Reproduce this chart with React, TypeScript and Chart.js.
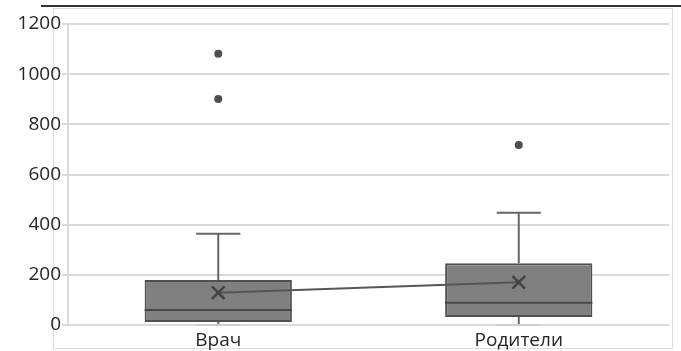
import React, { useEffect, useRef } from "react";
import { Chart, registerables } from "chart.js";

Chart.register(...registerables);

const categories = ["Врач", "Родители"];
const q1Values = [12, 32];
const q3Values = [179, 246];
const medianValues = [60, 89];
const meanValues = [129, 170];
const whiskerLowValues = [0, 0];
const whiskerHighValues = [364, 448];
const outlierValues = [[1081, 901], [718]];
const yMin = 0;
const yMax = 1200;
const yStep = 200;

const FONT = "'Open Sans', 'Noto Sans', sans-serif";

const framePlugin = {
  id: "frame",
  beforeDraw(chart: any) {
    const ctx = chart.ctx;
    ctx.save();
    ctx.fillStyle = "#ffffff";
    ctx.fillRect(0, 0, chart.width, chart.height);
    ctx.strokeStyle = "#dcdcdc";
    ctx.lineWidth = 1;
    ctx.strokeRect(53.5, 8.5, 619, 340);
    ctx.strokeStyle = "#333333";
    ctx.lineWidth = 2;
    ctx.beginPath();
    ctx.moveTo(41, 6);
    ctx.lineTo(681, 6);
    ctx.stroke();
    ctx.restore();
  },
};

const boxPlugin = {
  id: "boxExtras",
  afterDatasetDraw(chart: any, args: any) {
    if (args.index !== 0) return;
    const ctx = chart.ctx;
    const y = chart.scales.y;
    const meta = chart.getDatasetMeta(0);
    ctx.save();
    meta.data.forEach((el: any, i: number) => {
      const { x, width } = el.getProps(["x", "width"], true);
      const capHalf = width * 0.15;
      const yHigh = y.getPixelForValue(whiskerHighValues[i]);
      const yQ3 = y.getPixelForValue(q3Values[i]);
      const yLow = y.getPixelForValue(whiskerLowValues[i]);
      const yQ1 = y.getPixelForValue(q1Values[i]);
      ctx.strokeStyle = "#666666";
      ctx.lineWidth = 2;
      ctx.beginPath();
      ctx.moveTo(x, yQ3);
      ctx.lineTo(x, yHigh);
      ctx.moveTo(x - capHalf, yHigh);
      ctx.lineTo(x + capHalf, yHigh);
      ctx.stroke();
      ctx.beginPath();
      ctx.moveTo(x, yQ1);
      ctx.lineTo(x, yLow);
      ctx.stroke();
      ctx.strokeStyle = "#cfcfcf";
      ctx.lineWidth = 2;
      ctx.beginPath();
      ctx.moveTo(x - capHalf, yLow);
      ctx.lineTo(x + capHalf, yLow);
      ctx.stroke();
      const yMed = y.getPixelForValue(medianValues[i]);
      ctx.strokeStyle = "#484848";
      ctx.lineWidth = 2;
      ctx.beginPath();
      ctx.moveTo(x - width / 2, yMed);
      ctx.lineTo(x + width / 2, yMed);
      ctx.stroke();
    });
    ctx.restore();
  },
};

export default function App() {
  const canvasRef = useRef<HTMLCanvasElement | null>(null);

  useEffect(() => {
    if (!canvasRef.current) return;
    const outlierPoints: { x: string; y: number }[] = [];
    outlierValues.forEach((vals, i) =>
      vals.forEach((v) => outlierPoints.push({ x: categories[i], y: v }))
    );
    const chart = new Chart(canvasRef.current, {
      type: "bar",
      data: {
        labels: categories,
        datasets: [
          {
            type: "bar",
            label: "box",
            data: categories.map((_, i) => [q1Values[i], q3Values[i]]) as any,
            backgroundColor: "#808080",
            borderColor: "#505050",
            borderWidth: 2,
            borderSkipped: false,
            barPercentage: 0.49,
            categoryPercentage: 1,
            order: 3,
          } as any,
          {
            type: "line",
            label: "mean",
            data: meanValues,
            borderColor: "#555555",
            borderWidth: 2,
            pointStyle: "crossRot",
            pointRadius: 9,
            pointBorderWidth: 2.5,
            pointBorderColor: "#444444",
            pointBackgroundColor: "#444444",
            order: 1,
          } as any,
          {
            type: "line",
            label: "outliers",
            data: outlierPoints as any,
            showLine: false,
            pointRadius: 4,
            pointBorderWidth: 0,
            pointBackgroundColor: "#4d4d4d",
            order: 2,
          } as any,
        ],
      },
      options: {
        responsive: false,
        animation: false,
        layout: { padding: { top: 24, right: 12, left: 0, bottom: 0 } },
        plugins: {
          legend: { display: false },
          tooltip: { enabled: false },
        },
        scales: {
          x: {
            grid: { display: false, drawTicks: false },
            border: { display: false },
            afterFit(scale: any) {
              scale.height = 26;
            },
            ticks: {
              color: "#262626",
              font: { family: FONT, size: 19 },
              padding: 4,
            },
          },
          y: {
            min: yMin,
            max: yMax,
            afterFit(scale: any) {
              scale.width = 68;
            },
            ticks: {
              stepSize: yStep,
              color: "#262626",
              font: { family: FONT, size: 19 },
              padding: 1,
              callback: (v: any) => String(v),
            },
            grid: { color: "#dadada", lineWidth: 2, tickLength: 6 },
            border: { display: true, color: "#dadada", width: 2 },
          },
        },
      } as any,
      plugins: [framePlugin, boxPlugin],
    });
    return () => chart.destroy();
  }, []);

  return (
    <div style={{ position: "absolute", left: 0, top: 0, width: 681, height: 351 }}>
      <canvas ref={canvasRef} width={681} height={351} />
    </div>
  );
}
